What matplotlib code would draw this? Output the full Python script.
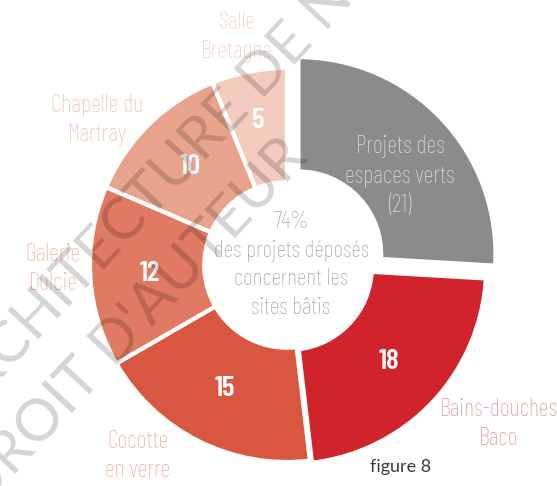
import numpy as np
import matplotlib
matplotlib.use("Agg")
import matplotlib.pyplot as plt

# données
sites = ["Projets des\nespaces verts\n(21)", "Bains-douches\nBaco", "Cocotte\nen verre",
         "Galerie\nDulcie", "Chapelle du\nMartray", "Salle\nBretagne"]
projets = [21, 18, 15, 12, 10, 5]
couleurs = ["#8a8b8d", "#d0232c", "#d95741", "#e07a62", "#e8a38c", "#f3cbbd"]
couleurs_txt = ["#dcdcdc", "#e9959b", "#f0ab9c", "#f0b4a4", "#f1c0ae", "#f5cdc6"]
centre_txt = "74%\ndes projets déposés\nconcernent les\nsites bâtis"

W, H = 557, 486
CX, CY, R = 287, 265, 197   # centre et rayon en pixels


def px(x, y):
    # pixels de l'image -> coordonnées des données
    return (x - CX) / R, (CY - y) / R


fig = plt.figure(figsize=(W / 100, H / 100), dpi=100)
ax = fig.add_axes([0, 0, 1, 1])

cond = "Barlow Condensed"

wedges, _ = ax.pie(projets, colors=couleurs, startangle=90, counterclock=False,
                   radius=1, explode=[0.08, 0.015, 0, 0, 0, 0],
                   wedgeprops=dict(width=0.58, edgecolor="white", linewidth=3))
ax.set_xlim(-CX / R, (W - CX) / R)
ax.set_ylim(-(H - CY) / R, CY / R)
ax.set_aspect("equal")
ax.axis("off")

# valeurs dans les parts
for i, w in enumerate(wedges[1:], start=1):
    a = np.deg2rad((w.theta1 + w.theta2) / 2)
    r = 0.75 if projets[i] < 8 else 0.70
    cx, cy = w.center
    ax.text(cx + r * np.cos(a), cy + r * np.sin(a), str(projets[i]), color="white",
            fontsize=21, fontweight="semibold", family=cond, ha="center", va="center")

# étiquettes
pos = [(400, 176), (499, 424), (138, 456), (53, 269), (97, 120), (237, 37)]
for i, (x, y) in enumerate(pos):
    ax.text(*px(x, y), sites[i], color=couleurs_txt[i], fontsize=17.5, family=cond,
            fontweight="light", ha="center", va="center", linespacing=1.38)

ax.text(*px(291, 265), centre_txt, color="#a6a6a6", fontsize=17, family=cond,
        fontweight="light", ha="center", va="center", linespacing=1.38)

ax.text(*px(401, 467), "figure 8", color="#3c3c3c", fontsize=13, family="Lato",
        ha="center", va="center")

# filigrane
fig.text(219 / W, 1 - 146 / H, "ARCHITECTURE DE NANTES", fontsize=42, family="Lato",
         color="black", alpha=0.17, rotation=47,
         rotation_mode="anchor", ha="center", va="baseline")
fig.text(146 / W, 1 - 334 / H, "DROIT D'AUTEUR", fontsize=42, family="Lato",
         color="black", alpha=0.17, rotation=47,
         rotation_mode="anchor", ha="center", va="baseline")

fig.savefig("out.png", dpi=100)
